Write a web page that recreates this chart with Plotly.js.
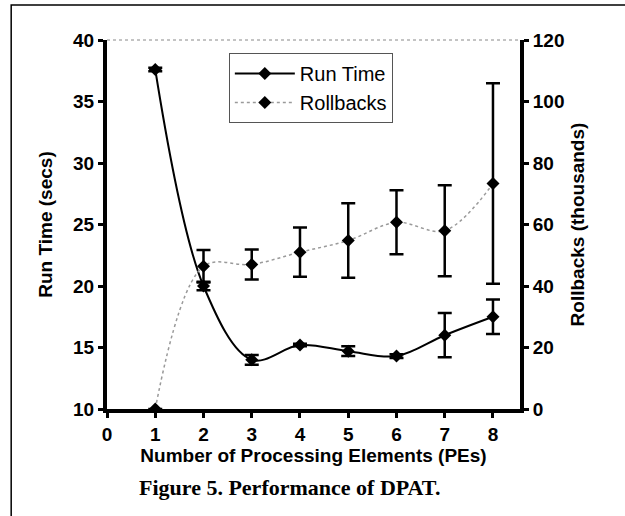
<!DOCTYPE html>
<html>
<head>
<meta charset="utf-8">
<script src="https://cdn.plot.ly/plotly-3.0.1.min.js"></script>
<style>
  html, body { margin: 0; padding: 0; background: #ffffff; }
  #chart { width: 625px; height: 516px; }
</style>
</head>
<body>
<div id="chart"></div>
<script>
// Data
const processingElements = [1, 2, 3, 4, 5, 6, 7, 8];
const runTimeSecs = [37.6, 20.0, 14.0, 15.2, 14.7, 14.3, 16.0, 17.5];
const runTimeError = [0.15, 0.35, 0.4, 0.1, 0.4, 0.15, 1.8, 1.4];
const rollbacksThousands = [0, 46.4, 47.0, 51.0, 54.8, 60.7, 58.0, 73.3];
const rollbacksError = [0, 5.3, 4.9, 8.0, 12.1, 10.4, 14.8, 32.6];
const xTickValues = [0, 1, 2, 3, 4, 5, 6, 7, 8];
const leftTickValues = [10, 15, 20, 25, 30, 35, 40];
const rightTickValues = [0, 20, 40, 60, 80, 100, 120];

const sans = 'Liberation Sans, Arial, Helvetica, sans-serif';

const traces = [
  {
    name: 'Run Time',
    x: processingElements,
    y: runTimeSecs,
    type: 'scatter',
    mode: 'lines+markers',
    line: { color: '#000000', width: 2, shape: 'spline', smoothing: 1 },
    marker: { symbol: 'diamond', size: 10, color: '#000000' },
    error_y: { type: 'data', array: runTimeError, visible: true, color: '#000000', thickness: 2.5, width: 7 },
    yaxis: 'y'
  },
  {
    name: 'Rollbacks',
    x: processingElements,
    y: rollbacksThousands,
    type: 'scatter',
    mode: 'lines+markers',
    line: { color: '#9a9a9a', width: 1.5, dash: 'dot', shape: 'spline', smoothing: 1 },
    marker: { symbol: 'diamond', size: 10, color: '#000000' },
    error_y: { type: 'data', array: rollbacksError, visible: true, color: '#000000', thickness: 2.5, width: 7 },
    yaxis: 'y2'
  }
];

const axisCommon = {
  showline: true,
  linecolor: '#000000',
  linewidth: 4,
  ticks: 'outside',
  ticklen: 5,
  tickwidth: 3,
  tickcolor: '#000000',
  showgrid: false,
  zeroline: false,
  tickfont: { family: sans, size: 19, color: '#000000', weight: 'bold' },
  fixedrange: true
};

const titleFont = { family: sans, size: 19, color: '#000000', weight: 'bold' };

const layout = {
  width: 625,
  height: 516,
  margin: { l: 107, r: 105, t: 40, b: 107 },
  paper_bgcolor: '#ffffff',
  plot_bgcolor: '#ffffff',
  showlegend: true,
  legend: {
    x: 0.295, y: 0.965, xanchor: 'left', yanchor: 'top',
    bgcolor: '#ffffff', bordercolor: '#555555', borderwidth: 1,
    font: { family: sans, size: 20, color: '#000000' },
    itemwidth: 60,
    tracegroupgap: 2
  },
  xaxis: Object.assign({}, axisCommon, {
    range: [0, 8.56],
    tickmode: 'array',
    tickvals: xTickValues,
    ticktext: xTickValues.map(String),
    title: { text: 'Number of Processing Elements (PEs)', font: titleFont, standoff: 0 }
  }),
  yaxis: Object.assign({}, axisCommon, {
    range: [10, 40],
    tickmode: 'array',
    tickvals: leftTickValues,
    ticktext: leftTickValues.map(String),
    title: { text: 'Run Time (secs)', font: titleFont, standoff: 16 }
  }),
  yaxis2: Object.assign({}, axisCommon, {
    range: [0, 120],
    overlaying: 'y',
    side: 'right',
    tickmode: 'array',
    tickvals: rightTickValues,
    ticktext: rightTickValues.map(String),
    title: { text: 'Rollbacks (thousands)', font: titleFont, standoff: 8 }
  }),
  shapes: [
    { type: 'line', xref: 'paper', yref: 'paper', x0: 0, x1: 1, y0: 1, y1: 1,
      line: { color: '#888888', width: 1, dash: 'dot' } },
    { type: 'rect', xref: 'paper', yref: 'paper', x0: -0.232, x1: 1.3, y0: -0.32, y1: 1.095,
      line: { color: '#000000', width: 1.5 }, fillcolor: 'rgba(0,0,0,0)' }
  ],
  annotations: [
    { text: 'Figure 5. Performance of DPAT.', xref: 'paper', yref: 'paper',
      x: 0.443, y: -0.214, xanchor: 'center', yanchor: 'middle', showarrow: false,
      font: { family: 'Liberation Serif, Times New Roman, serif', size: 22, color: '#000000', weight: 'bold' } }
  ]
};

Plotly.newPlot('chart', traces, layout, { displayModeBar: false, staticPlot: true });
</script>
</body>
</html>
